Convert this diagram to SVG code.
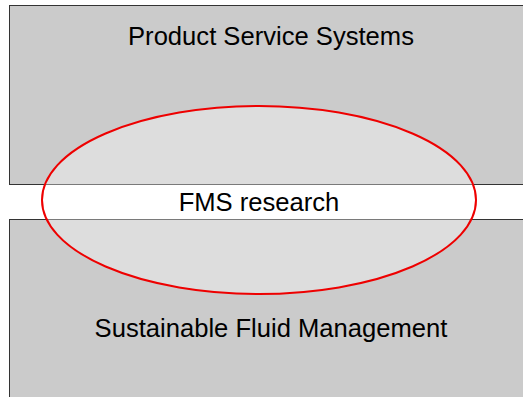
<svg xmlns="http://www.w3.org/2000/svg" width="523" height="397" viewBox="0 0 523 397">
<style>
.box{fill:#cbcbcb;stroke:#333;stroke-width:1}
.lbl{font-family:"Liberation Sans",Arial,sans-serif;font-size:25.6px;fill:#000;text-anchor:middle}
</style>
<rect width="523" height="397" fill="#fff"/>
<g id="pss">
<rect class="box" x="9.5" y="5.5" width="520" height="179"/>
<text class="lbl" x="271" y="45">Product Service Systems</text>
</g>
<g id="sfm">
<rect class="box" x="9.5" y="219.5" width="520" height="190"/>
<text class="lbl" x="271" y="337">Sustainable Fluid Management</text>
</g>
<g id="fms">
<ellipse cx="259" cy="200" rx="217" ry="94" fill="#fff" fill-opacity="0.35" stroke="#e00" stroke-width="2"/>
<text class="lbl" x="259" y="211">FMS research</text>
</g>
</svg>
